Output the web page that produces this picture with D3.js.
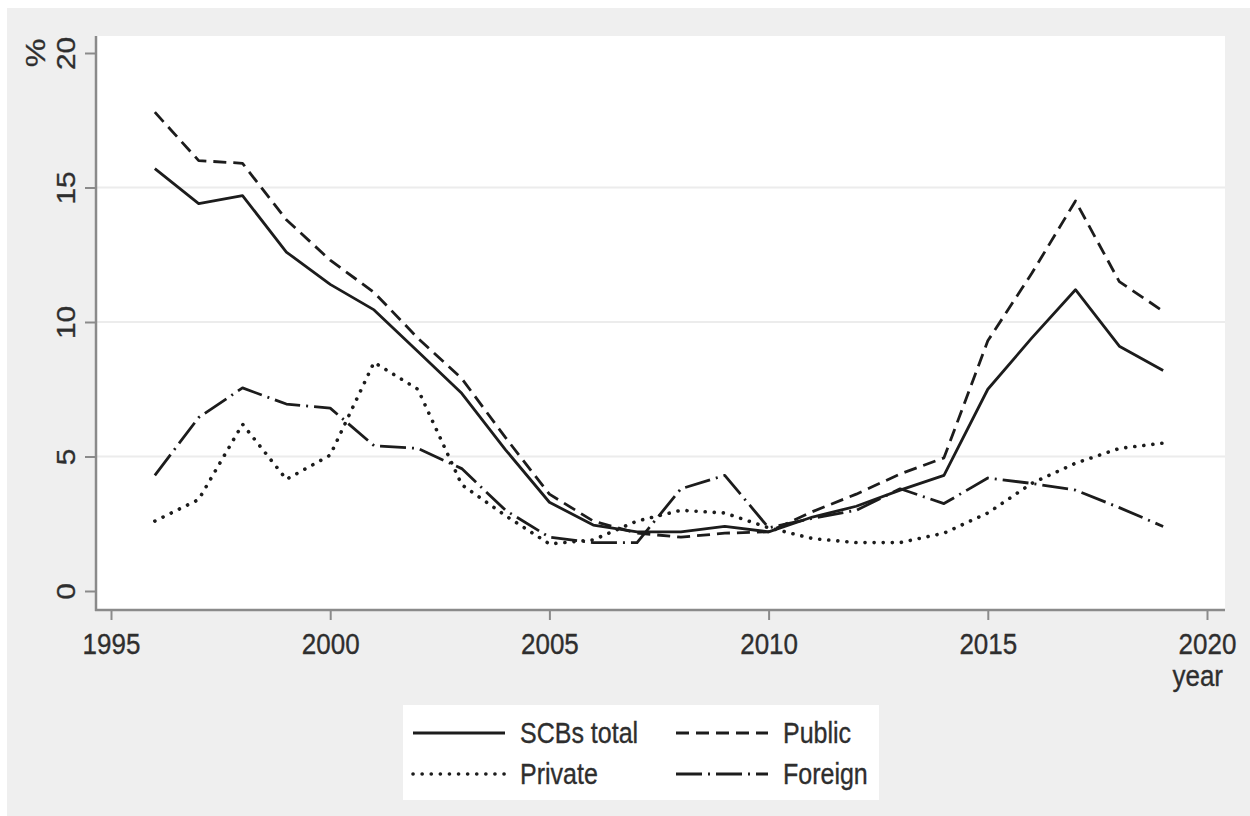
<!DOCTYPE html>
<html>
<head>
<meta charset="utf-8">
<script src="https://cdn.jsdelivr.net/npm/d3@7"></script>
<style>
  html, body { margin: 0; padding: 0; background: #ffffff; }
  svg { display: block; }
  text { font-family: "Liberation Sans", Arial, sans-serif; fill: #2e2e2e; }
</style>
</head>
<body>
<svg id="chart" width="1250" height="816"></svg>
<script>
// ---- data ----
const years = [1996,1997,1998,1999,2000,2001,2002,2003,2004,2005,2006,2007,2008,2009,2010,2011,2012,2013,2014,2015,2016,2017,2018,2019];
const scbsTotal = [15.7,14.4,14.7,12.6,11.4,10.45,8.9,7.35,5.25,3.3,2.45,2.2,2.2,2.4,2.2,2.75,3.15,3.75,4.3,7.5,9.4,11.2,9.1,8.2];
const publicBanks = [17.8,16.0,15.9,13.8,12.3,11.1,9.4,7.9,5.7,3.6,2.6,2.15,2.0,2.15,2.2,2.95,3.6,4.35,4.95,9.3,11.8,14.5,11.5,10.4];
const privateBanks = [2.6,3.4,6.2,4.15,5.05,8.5,7.5,3.95,2.8,1.75,1.9,2.6,3.0,2.9,2.35,1.95,1.8,1.8,2.15,2.9,4.0,4.75,5.3,5.5];
const foreignBanks = [4.3,6.45,7.55,6.95,6.8,5.4,5.3,4.55,3.0,2.0,1.8,1.8,3.8,4.3,2.35,2.7,3.0,3.8,3.25,4.2,4.0,3.75,3.1,2.4];
const xTicks = [1995,2000,2005,2010,2015,2020];
const yTicks = [0,5,10,15,20];
const yGrid = [5,10,15];
const seriesNames = ["SCBs total","Public","Private","Foreign"];
const xTitle = "year";
const yTitle = "%";

// ---- styles ----
const dashes = {
  "SCBs total": null,
  "Public": "13,7",
  "Private": "0.1,9",
  "Foreign": "26,6,2,6"
};
const caps = { "SCBs total": "butt", "Public": "butt", "Private": "round", "Foreign": "butt" };
const lineColor = "#1c1c1c";
const axisColor = "#8a8a8a";
const vs = 1.15; // vertical text stretch

const svg = d3.select("#chart");

// outer background
svg.append("rect").attr("x", 7).attr("y", 8).attr("width", 1243).attr("height", 808).attr("fill", "#efefef");
// plot region
const plotL = 96, plotR = 1225, plotT = 36, plotB = 610;
svg.append("rect").attr("x", plotL).attr("y", plotT).attr("width", plotR - plotL).attr("height", plotB - plotT).attr("fill", "#ffffff");

const x = d3.scaleLinear().domain([1995, 2020]).range([111, 1207]);
const y = d3.scaleLinear().domain([0, 20]).range([591, 53]);

// gridlines
svg.append("g").selectAll("line").data(yGrid).join("line")
  .attr("x1", plotL + 1).attr("x2", plotR)
  .attr("y1", d => y(d)).attr("y2", d => y(d))
  .attr("stroke", "#ececec").attr("stroke-width", 2);

// x axis
const gx = svg.append("g").attr("transform", `translate(0,${plotB})`)
  .call(d3.axisBottom(x).tickValues(xTicks).tickFormat(d3.format("d")).tickSize(10).tickPadding(0));
gx.select(".domain").remove();
gx.selectAll(".tick line").attr("stroke", axisColor).attr("stroke-width", 2);
gx.selectAll(".tick text")
  .attr("font-size", 26).attr("fill", "#2e2e2e")
  .attr("stroke", "#2e2e2e").attr("stroke-width", 0.3)
  .attr("dy", null)
  .attr("y", 44 / vs)
  .attr("transform", `scale(1,${vs})`);
svg.append("line").attr("x1", plotL - 1).attr("x2", plotR).attr("y1", plotB).attr("y2", plotB)
  .attr("stroke", axisColor).attr("stroke-width", 2.5);

// y axis
const gy = svg.append("g").attr("transform", `translate(${plotL},0)`)
  .call(d3.axisLeft(y).tickValues(yTicks).tickFormat(d3.format("d")).tickSize(11).tickPadding(0));
gy.select(".domain").remove();
gy.selectAll(".tick line").attr("stroke", axisColor).attr("stroke-width", 2);
gy.selectAll(".tick text")
  .attr("font-size", 26).attr("fill", "#2e2e2e")
  .attr("stroke", "#2e2e2e").attr("stroke-width", 0.3)
  .attr("x", null).attr("dy", null)
  .attr("text-anchor", "middle")
  .attr("transform", `translate(-21,0) rotate(-90) scale(${vs},1)`);
svg.append("line").attr("x1", plotL).attr("x2", plotL).attr("y1", plotT).attr("y2", plotB + 1)
  .attr("stroke", axisColor).attr("stroke-width", 2.5);

// axis titles
svg.append("text").text(yTitle)
  .attr("font-size", 28).attr("text-anchor", "middle")
  .attr("stroke", "#2e2e2e").attr("stroke-width", 0.3)
  .attr("transform", `translate(45,${y(20)}) rotate(-90) scale(${vs},1)`);
svg.append("text").text(xTitle)
  .attr("font-size", 26).attr("text-anchor", "end")
  .attr("stroke", "#2e2e2e").attr("stroke-width", 0.3)
  .attr("transform", `translate(1223,686) scale(1,${vs})`);

// lines
const seriesData = {
  "SCBs total": scbsTotal,
  "Public": publicBanks,
  "Private": privateBanks,
  "Foreign": foreignBanks
};
const line = d3.line().x(d => x(d[0])).y(d => y(d[1]));
const drawOrder = ["Foreign","Private","Public","SCBs total"];
drawOrder.forEach(name => {
  const pts = years.map((yr, i) => [yr, seriesData[name][i]]);
  svg.append("path").datum(pts)
    .attr("d", line)
    .attr("fill", "none")
    .attr("stroke", lineColor)
    .attr("stroke-width", name === "Private" ? 3.6 : 2.8)
    .attr("stroke-linejoin", "round")
    .attr("stroke-linecap", caps[name])
    .attr("stroke-dasharray", dashes[name]);
});

// legend
const legend = svg.append("g");
legend.append("rect").attr("x", 403).attr("y", 705).attr("width", 476).attr("height", 95).attr("fill", "#ffffff");
const legPos = [
  { name: "SCBs total", lx: 413, ly: 733 },
  { name: "Public", lx: 676, ly: 733 },
  { name: "Private", lx: 413, ly: 774 },
  { name: "Foreign", lx: 676, ly: 774 }
];
legPos.forEach(p => {
  legend.append("line")
    .attr("x1", p.lx).attr("x2", p.lx + 92)
    .attr("y1", p.ly).attr("y2", p.ly)
    .attr("stroke", lineColor)
    .attr("stroke-width", p.name === "Private" ? 3.6 : 3)
    .attr("stroke-linecap", caps[p.name])
    .attr("stroke-dasharray", dashes[p.name]);
  legend.append("text").text(p.name)
    .attr("font-size", 25)
    .attr("stroke", "#2e2e2e").attr("stroke-width", 0.3)
    .attr("transform", `translate(${p.lx + 107},${p.ly + 10}) scale(1,${vs})`);
});
</script>
</body>
</html>
